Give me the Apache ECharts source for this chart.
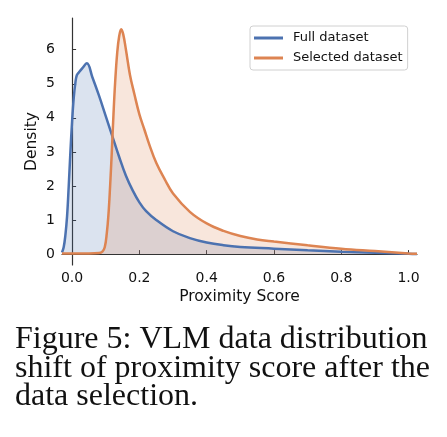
<!DOCTYPE html>
<html>
<head>
<meta charset="utf-8">
<script src="https://cdn.jsdelivr.net/npm/echarts@6/dist/echarts.min.js"></script>
<style>
  html, body { margin: 0; padding: 0; background: #fff; }
  #chart { width: 447px; height: 437px; }
</style>
</head>
<body>
<div id="chart"></div>
<script>
  // density curves
  const fullX = [-0.03, -0.025, -0.02, -0.015, -0.01, -0.005, 0.0, 0.005, 0.01, 0.014, 0.02, 0.03, 0.044, 0.06, 0.08, 0.1, 0.12, 0.14, 0.16, 0.18, 0.2, 0.22, 0.25, 0.3, 0.35, 0.4, 0.45, 0.5, 0.6, 0.7, 0.8, 0.9, 1.0, 1.025]
  const fullY = [0.05, 0.2, 0.55, 1.1, 2.0, 3.0, 3.9, 4.6, 5.05, 5.25, 5.33, 5.45, 5.6, 5.2, 4.65, 4.05, 3.45, 2.85, 2.3, 1.87, 1.52, 1.26, 1.0, 0.67, 0.47, 0.34, 0.26, 0.21, 0.16, 0.11, 0.07, 0.04, 0.01, 0.0]
  const selX = [-0.03, 0.0, 0.05, 0.08, 0.09, 0.097, 0.103, 0.108, 0.113, 0.118, 0.123, 0.128, 0.134, 0.14, 0.146, 0.152, 0.16, 0.172, 0.185, 0.2, 0.215, 0.23, 0.25, 0.275, 0.3, 0.35, 0.4, 0.45, 0.5, 0.55, 0.6, 0.7, 0.8, 0.9, 1.0, 1.025]
  const selY = [0.02, 0.02, 0.02, 0.03, 0.07, 0.2, 0.6, 1.15, 2.0, 3.0, 4.1, 5.05, 5.9, 6.4, 6.6, 6.45, 6.0, 5.26, 4.7, 4.1, 3.65, 3.2, 2.68, 2.2, 1.78, 1.24, 0.9, 0.68, 0.53, 0.43, 0.37, 0.26, 0.16, 0.09, 0.02, 0.01]

  const xTicks = [0, 0.2, 0.4, 0.6, 0.8, 1.0]
  const yTicks = [0, 1, 2, 3, 4, 5, 6]
  const seriesNames = ['Full dataset', 'Selected dataset']
  const captionLines = [
    'Figure 5: VLM data distribution',
    'shift of proximity score after the',
    'data selection.'
  ]

  const blue = '#4C72B0'
  const orange = '#DD8452'
  const font = 'DejaVu Sans'

  const chart = echarts.init(document.getElementById('chart'))

  const pairs = (xs, ys) => xs.map((x, i) => [x, ys[i]])

  chart.setOption({
    animation: false,
    grid: {
      left: 62,
      right: 30,
      top: 18,
      bottom: 172
    },
    legend: {
      orient: 'vertical',
      left: 250,
      top: 26,
      padding: [4, 5, 4, 4],
      icon: 'rect',
      itemWidth: 29,
      itemHeight: 3,
      itemGap: 4,
      borderColor: '#d0d0d0',
      borderWidth: 1,
      borderRadius: 3,
      textStyle: { fontFamily: font, fontSize: 13, lineHeight: 16, color: '#111', padding: [0, 0, 0, 5] },
      data: seriesNames
    },
    xAxis: {
      type: 'value',
      min: -0.03,
      max: 1.025,
      name: 'Proximity Score',
      nameLocation: 'middle',
      nameGap: 24,
      nameMoveOverlap: false,
      nameTextStyle: { fontFamily: font, fontSize: 15.5, color: '#111' },
      splitLine: { show: false },
      axisLine: { lineStyle: { color: '#333', width: 1.2 } },
      axisTick: { inside: true, length: 4, customValues: xTicks, lineStyle: { color: '#333' } },
      axisLabel: {
        customValues: xTicks,
        margin: 6,
        fontFamily: font,
        fontSize: 14,
        color: '#111',
        formatter: (v) => v.toFixed(1)
      }
    },
    yAxis: {
      type: 'value',
      min: -0.32,
      max: 6.93,
      name: 'Density',
      nameLocation: 'middle',
      nameGap: 22,
      nameMoveOverlap: false,
      nameTextStyle: { fontFamily: font, fontSize: 15.5, color: '#111' },
      splitLine: { show: false },
      axisLine: { show: true, lineStyle: { color: '#333', width: 1.2 } },
      axisTick: { show: true, inside: true, length: 4, customValues: yTicks, lineStyle: { color: '#333' } },
      axisLabel: {
        customValues: yTicks,
        margin: 7,
        fontFamily: font,
        fontSize: 14,
        color: '#111'
      }
    },
    series: [
      {
        name: seriesNames[0],
        type: 'line',
        data: pairs(fullX, fullY),
        showSymbol: false,
        symbol: 'none',
        smooth: 0.4,
        lineStyle: { color: blue, width: 2.5 },
        itemStyle: { color: blue },
        areaStyle: { color: blue, opacity: 0.2, origin: 0 }
      },
      {
        name: seriesNames[1],
        type: 'line',
        data: pairs(selX, selY),
        showSymbol: false,
        symbol: 'none',
        smooth: 0.4,
        lineStyle: { color: orange, width: 2.5 },
        itemStyle: { color: orange },
        areaStyle: { color: orange, opacity: 0.2, origin: 0 }
      }
    ],
    graphic: captionLines.map((t, i) => ({
      type: 'text',
      left: 15,
      top: 324 + i * 28.5,
      style: {
        text: t,
        fontFamily: 'Liberation Serif',
        fontSize: 32,
        fill: '#111'
      }
    }))
  })
</script>
</body>
</html>
